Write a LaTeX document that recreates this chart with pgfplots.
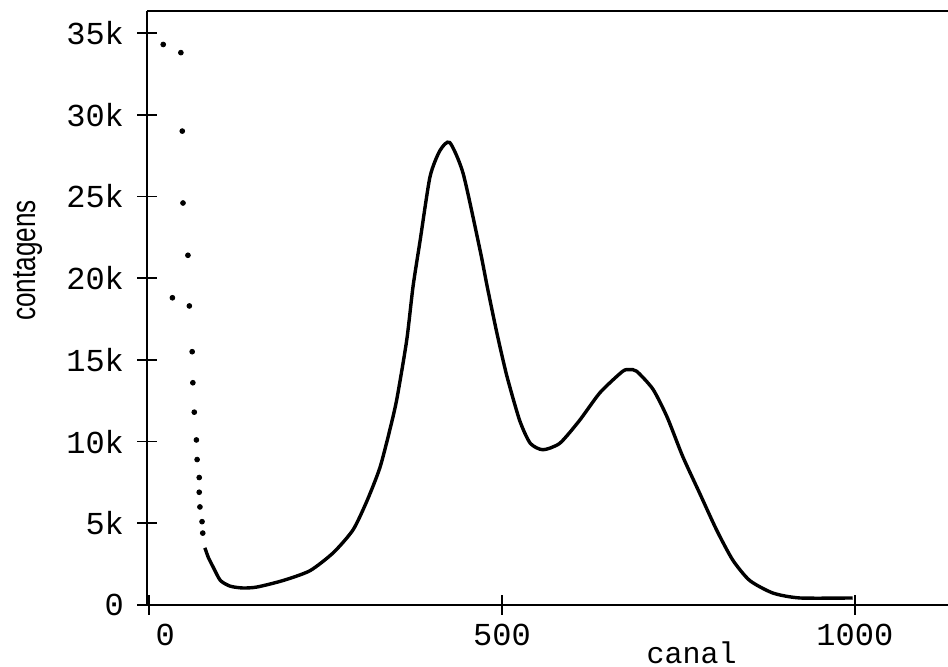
\documentclass[border=0pt]{standalone}
\usepackage{fontspec}
\setmainfont{Liberation Serif}
\setmonofont{Liberation Mono}
\newfontfamily\labelsans{Liberation Sans}
\usepackage{pgfplots}
\pgfplotsset{compat=1.18}
\begin{document}
\begin{tikzpicture}
\useasboundingbox (-73.5pt,-31pt) rectangle (400.5pt,302.5pt);
\begin{axis}[
  at={(0,0)}, anchor=south west, scale only axis,
  width=400.5pt, height=297pt,
  xmin=-3, xmax=1132, ymin=0, ymax=36350,
  axis x line*=box, axis y line*=left,
  xtick pos=left, ytick pos=left,
  axis line style={black, line width=1.1pt},
  xtick={0,500,1000},
  xticklabels={\hspace*{16pt}0,500,1000},
  ytick={0,5000,10000,15000,20000,25000,30000,35000},
  yticklabels={0,5k,10k,15k,20k,25k,30k,35k},
  scaled ticks=false,
  tick align=center, major tick length=10pt,
  tick style={black, line width=0.9pt},
  ticklabel style={font=\ttfamily\fontsize{16}{16}\selectfont},
  yticklabel style={xshift=-3pt},
  xticklabel style={yshift=-1pt},
  xlabel={\ttfamily\fontsize{15}{15}\selectfont canal},
  xlabel style={at={(rel axis cs:0.68,-0.062)}, anchor=north, inner sep=0pt},
  ylabel={\scalebox{0.77}[1]{\labelsans\fontsize{17}{17}\selectfont contagens}},
  ylabel style={at={(rel axis cs:-0.149,0.58)}, anchor=center, inner sep=0pt},
  clip=false,
]
\addplot[only marks, mark=*, mark size=1.2pt, black] coordinates {
(20,34300) (45,33800) (47,29000) (48,24600) (55,21400) (33,18800) (57,18300)
(61,15500) (62,13600) (64,11800) (67,10100) (68,8900) (71,7800) (71,6900)
(72,6000) (75,5100) (76,4400)
};
\addplot[black, line width=1.7pt, smooth, tension=0.4] coordinates {
(79,3500) (84,2900) (91,2300) (101,1500) (115,1150) (133,1040) (153,1100)
(190,1500) (228,2100) (261,3200) (289,4600) (309,6400) (327,8400) (341,10700)
(351,12600) (365,16200) (374,19500) (384,22300) (398,26200) (412,27800)
(426,28300) (445,26400) (469,21700) (479,19500) (493,16600) (507,14000)
(525,11300) (540,9900) (558,9500) (582,9900) (610,11300) (639,13000)
(671,14300) (681,14400) (691,14300) (714,13200) (734,11500) (756,9100)
(780,6850) (804,4600) (827,2750) (851,1500) (884,730) (922,430) (997,430)
};
\end{axis}
\end{tikzpicture}
\end{document}
